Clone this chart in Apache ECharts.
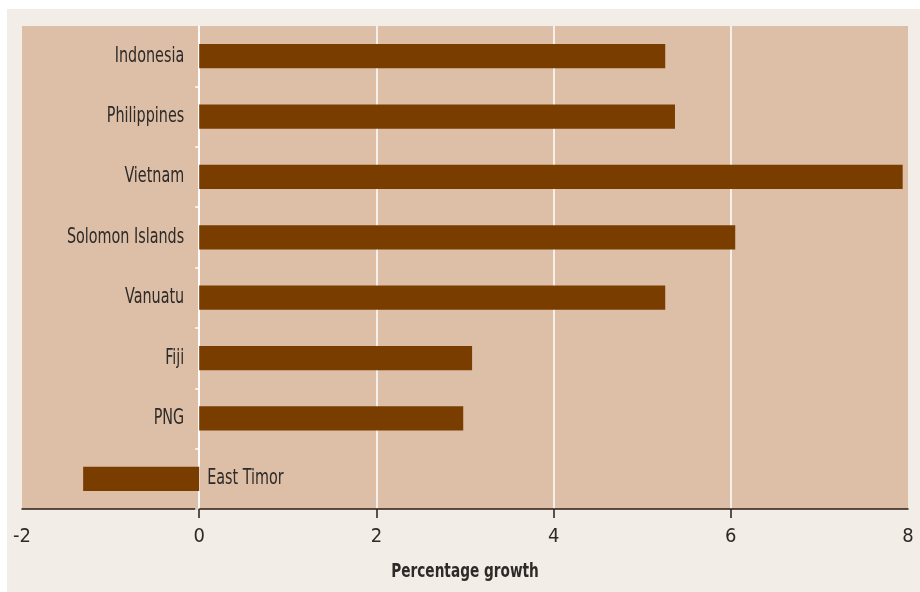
<!DOCTYPE html>
<html>
<head>
<meta charset="utf-8">
<script src="https://cdn.jsdelivr.net/npm/echarts@6/dist/echarts.min.js"></script>
<style>
  html, body { margin: 0; padding: 0; background: #ffffff; }
  #chart { width: 920px; height: 592px; }
</style>
</head>
<body>
<div id="chart"></div>
<script>
// Real GDP growth by country, percent
const countries = ['Indonesia', 'Philippines', 'Vietnam', 'Solomon Islands', 'Vanuatu', 'Fiji', 'PNG', 'East Timor'];
const growth = [5.26, 5.37, 7.94, 6.05, 5.26, 3.08, 2.98, -1.31];
const xTicks = [-2, 0, 2, 4, 6, 8];
const xAxisTitle = 'Percentage growth';

const FONT = '"DejaVu Sans Condensed", "Liberation Sans Narrow", "Roboto", sans-serif';
const TEXT = '#2e2a28';
const BAR = '#7a3d00';
const NARROW = 0.76; // horizontal squeeze for the condensed lettering

const chart = echarts.init(document.getElementById('chart'), null, { renderer: 'canvas' });

// Country names sit beside the zero line: left of positive bars, right of negative ones
function renderCountryLabel(params, api) {
  const v = api.value(0);
  const pt = api.coord([0, api.value(1)]);
  const neg = v < 0;
  return {
    type: 'text',
    x: neg ? pt[0] + 8 : pt[0] - 15,
    y: pt[1],
    scaleX: NARROW,
    style: {
      text: countries[params.dataIndex],
      x: 0, y: 0,
      align: neg ? 'left' : 'right',
      verticalAlign: 'middle',
      font: '21px ' + FONT,
      fill: TEXT
    }
  };
}

chart.setOption({
  backgroundColor: '#ffffff',
  animation: false,
  graphic: [{
    type: 'rect',
    z: -10,
    silent: true,
    shape: { x: 7, y: 9, width: 930, height: 600 },
    style: { fill: '#f2ede7' }
  }, {
    type: 'text',
    x: 465,
    y: 572,
    scaleX: 0.76,
    silent: true,
    style: {
      text: xAxisTitle,
      x: 0, y: 0,
      align: 'center',
      verticalAlign: 'middle',
      font: 'bold 20px ' + FONT,
      fill: TEXT
    }
  }],
  grid: {
    left: 22, right: 12, top: 26, bottom: 83,
    show: true,
    backgroundColor: '#dcbfa6',
    borderWidth: 0
  },
  xAxis: {
    type: 'value',
    min: xTicks[0],
    max: xTicks[xTicks.length - 1],
    interval: 2,
    axisLine: { show: true, onZero: false, lineStyle: { color: '#2b1d14', width: 1.5 } },
    axisTick: { show: true, length: 9, customValues: [0, 2, 4, 6], lineStyle: { color: '#2b1d14', width: 1.5 } },
    axisLabel: { fontFamily: FONT, fontSize: 20, color: TEXT, margin: 18 },
    splitLine: { show: true, lineStyle: { color: '#ffffff', width: 1.5 } }
  },
  yAxis: {
    type: 'category',
    data: countries,
    inverse: true,
    axisLine: { show: true, onZero: true, lineStyle: { color: '#ffffff', width: 1.5 } },
    axisTick: {
      show: true,
      length: 4,
      interval: function (index) { return index > 0; },
      lineStyle: { color: '#ffffff', width: 1.5 }
    },
    axisLabel: { show: false },
    splitLine: { show: false }
  },
  series: [{
    type: 'bar',
    data: growth,
    barCategoryGap: '60%',
    itemStyle: { color: BAR },
    z: 3
  }, {
    type: 'custom',
    renderItem: renderCountryLabel,
    data: countries.map(function (c, i) { return [growth[i], c]; }),
    encode: { x: 0, y: 1 },
    silent: true,
    z: 4
  }]
});
</script>
</body>
</html>
